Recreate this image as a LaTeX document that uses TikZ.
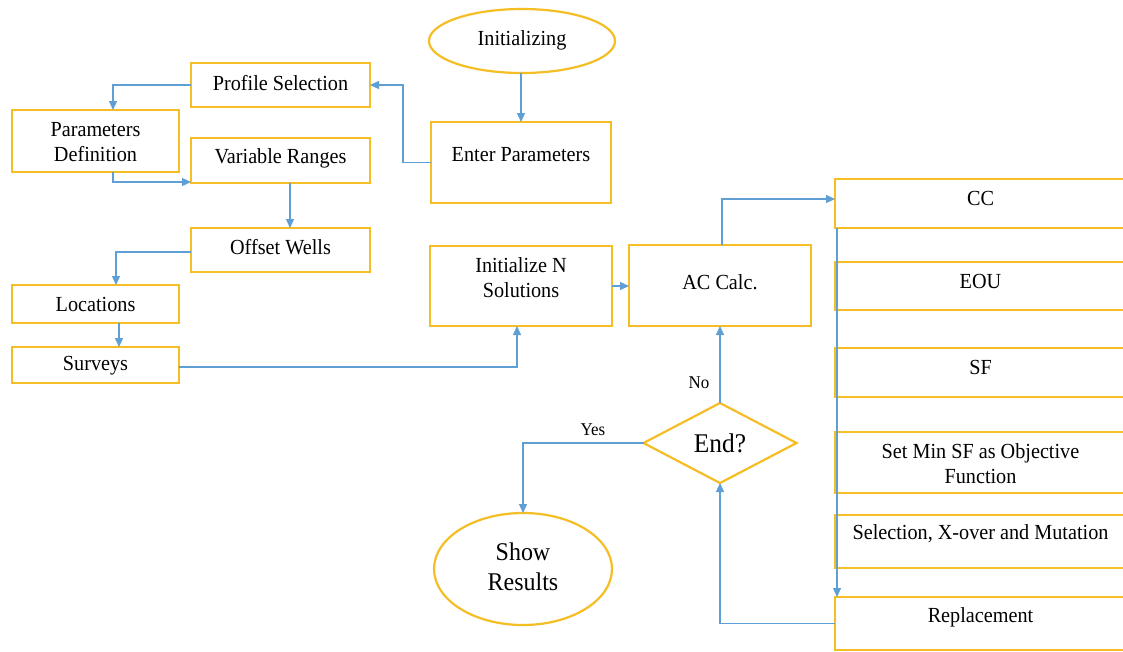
\documentclass[tikz,border=0pt]{standalone}
\usepackage{fontspec}
\setmainfont[FakeStretch=0.94]{Liberation Serif}
\usetikzlibrary{arrows.meta,shapes.geometric}
\definecolor{gold}{RGB}{244,190,36}
\definecolor{lblue}{RGB}{96,158,214}
\begin{document}
\begin{tikzpicture}[x=1pt,y=-1pt,
 box/.style={draw=gold,line width=2.2pt,rectangle,inner sep=0pt,outer sep=0pt},
 oval/.style={draw=gold,line width=2.2pt,ellipse,inner sep=0pt,outer sep=0pt},
 dia/.style={draw=gold,line width=2.2pt,diamond,inner sep=0pt,outer sep=0pt},
 txt/.style={font=\fontsize{21.5}{25}\selectfont,align=center,inner sep=0pt},
 lbl/.style={font=\fontsize{18}{20}\selectfont,inner sep=0pt},
 arr/.style={draw=lblue,line width=1.3pt,-{Triangle[length=9pt,width=8pt]}}
 ]
\useasboundingbox (0,0) rectangle (1123,651);
\fill[white] (0,0) rectangle (1123,651);

% left column
\node[oval,minimum width=186pt,minimum height=64pt] (init) at (522,41) {};
\node[txt] (init-t) at (522,40) {Initializing};
\node[box,minimum width=179pt,minimum height=44pt] (prof) at (280.5,85) {};
\node[txt] (prof-t) at (280.5,83) {Profile Selection};
\node[box,minimum width=167pt,minimum height=62pt] (pdef) at (95.5,141) {};
\node[txt] (pdef-t) at (95.5,142.5) {Parameters\\Definition};
\node[box,minimum width=179pt,minimum height=45pt] (vr) at (280.5,160.5) {};
\node[txt] (vr-t) at (280.5,158) {Variable Ranges};
\node[box,minimum width=180pt,minimum height=81pt] (ep) at (521,162.5) {};
\node[txt] (ep-t) at (521,155) {Enter Parameters};
\node[box,minimum width=179pt,minimum height=44pt] (ow) at (280.5,250) {};
\node[txt] (ow-t) at (280.5,247) {Offset Wells};
\node[box,minimum width=167pt,minimum height=38pt] (loc) at (95.5,304) {};
\node[txt] (loc-t) at (95.5,304) {Locations};
\node[box,minimum width=167pt,minimum height=36pt] (sur) at (95.5,365) {};
\node[txt] (sur-t) at (95.5,366) {Surveys};
\node[box,minimum width=182pt,minimum height=80pt] (inN) at (521,286) {};
\node[txt] (inN-t) at (521,278) {Initialize N\\Solutions};
\node[box,minimum width=182pt,minimum height=81pt] (ac) at (720,285.5) {};
\node[txt] (ac-t) at (720,282) {AC Calc.};

% right column
\node[box,minimum width=291pt,minimum height=49pt] (cc) at (980.5,203.5) {};
\node[txt] (cc-t) at (980.5,198) {CC};
\node[box,minimum width=291pt,minimum height=48pt] (eou) at (980.5,286) {};
\node[txt] (eou-t) at (980.5,281) {EOU};
\node[box,minimum width=291pt,minimum height=49pt] (sf) at (980.5,372.5) {};
\node[txt] (sf-t) at (980.5,367) {SF};
\node[box,minimum width=291pt,minimum height=61pt] (smin) at (980.5,462.5) {};
\node[txt] (smin-t) at (980.5,463.5) {Set Min SF as Objective\\Function};
\node[box,minimum width=291pt,minimum height=53pt] (sel) at (980.5,541.5) {};
\node[txt] (sel-t) at (980.5,534) {Selection, X-over and Mutation};
\node[box,minimum width=291pt,minimum height=53pt] (rep) at (980.5,623.5) {};
\node[txt] (rep-t) at (980.5,617) {Replacement};

% decision and end
\node[dia,minimum width=153pt,minimum height=80pt] (end) at (720,443) {};
\node[font=\fontsize{27}{30}\selectfont,inner sep=0pt] (end-t) at (720,443) {End?};
\node[oval,minimum width=178pt,minimum height=112pt] (show) at (523,569) {};
\node[font=\fontsize{25.5}{30}\selectfont,align=center,inner sep=0pt] (show-t) at (523,567) {Show\\Results};

\node[lbl] (no) at (699,383) {No};
\node[lbl] (yes) at (593,430) {Yes};

% connectors
\draw[arr] (ep.north |- init.south) -- (ep.north);
\draw[arr] (ep.west) -| ([xshift=33pt]prof.east) -- (prof.east);
\draw[arr] (prof.west) -| ([xshift=17.5pt]pdef.north);
\draw[arr] ([xshift=17.5pt]pdef.south) |- ([yshift=-21.5pt]vr.west);
\draw[arr] ([xshift=9.5pt]vr.south) -- ([xshift=9.5pt]ow.north);
\draw[arr] ([yshift=-2pt]ow.west) -| ([xshift=20.5pt]loc.north);
\draw[arr] ([xshift=23.5pt]loc.south) -- ([xshift=23.5pt]sur.north);
\draw[arr] ([yshift=-2pt]sur.east) -| ([xshift=-4pt]inN.south);
\draw[arr] (inN.east) -- (inN.east -| ac.west);
\draw[arr] ([xshift=2pt]ac.north) |- ([yshift=4.5pt]cc.west);
\draw[arr] ([xshift=2pt]cc.south west) -- ([xshift=2pt]rep.north west);
\draw[arr] (rep.west) -| (end.south);
\draw[arr] (end.north) -- (end.north |- ac.south);
\draw[arr] (end.west) -| (show.north);
\end{tikzpicture}
\end{document}
